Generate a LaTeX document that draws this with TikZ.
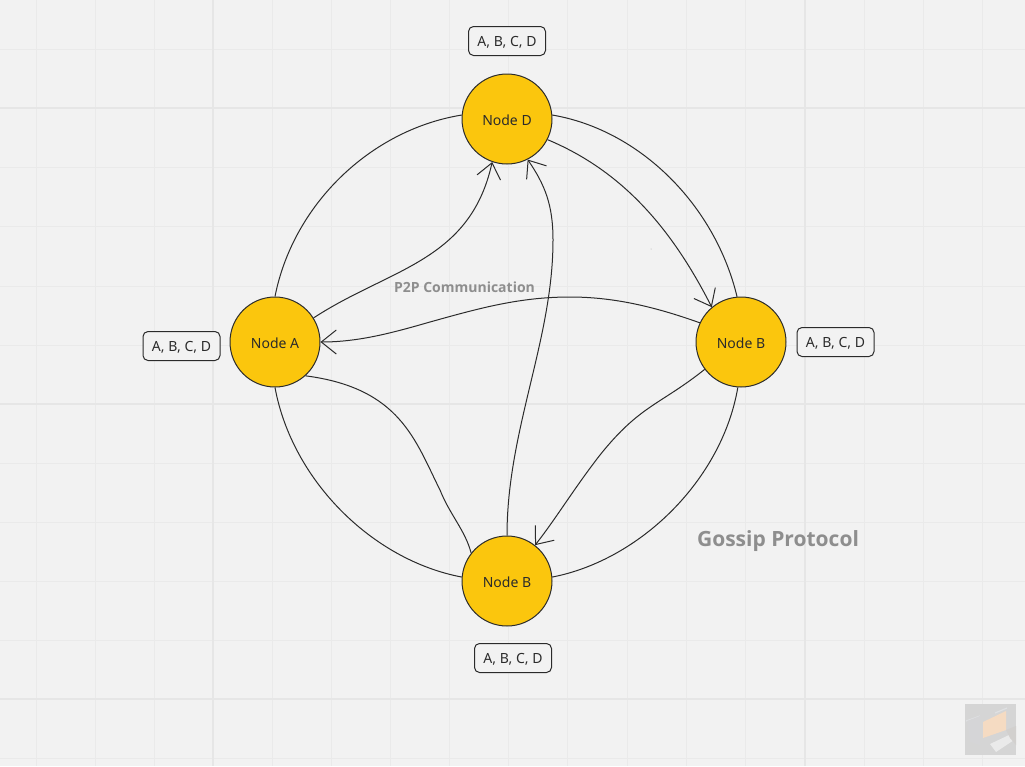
\documentclass[tikz,border=0pt]{standalone}
\usepackage{fontspec}
\setmainfont{Noto Sans}
\newfontfamily\capfont{Open Sans}
\usetikzlibrary{arrows.meta}
\definecolor{bg}{HTML}{F2F2F2}
\definecolor{gridc}{HTML}{EAEAEA}
\definecolor{gridm}{HTML}{E6E6E6}
\definecolor{gold}{HTML}{FBC60D}
\definecolor{ink}{HTML}{2B2B2B}
\definecolor{muted}{HTML}{8E8E8E}
\tikzset{
  x=1pt,y=-1pt,
  peer/.style={circle,draw=ink,line width=1pt,fill=gold,minimum size=90pt,inner sep=0pt,text height=14pt,text depth=2pt,font=\fontsize{14}{16}\selectfont,text=ink},
  state/.style={draw=ink,line width=1pt,rounded corners=5pt,fill=bg,minimum width=77pt,minimum height=29pt,inner sep=0pt,text height=13pt,text depth=2pt,font=\fontsize{14}{16}\selectfont,text=ink},
  link/.style={draw=ink,line width=1pt},
  msg/.style={link,-{Straight Barb[length=15pt,width=24pt,line width=1pt]}},
  faint/.style={line width=0.9pt,draw=gridc},
  major/.style={line width=1.1pt,draw=gridm},
  caption/.style={text=muted,font=\capfont\bfseries\fontsize{14}{16}\selectfont,inner sep=0pt}
}
\begin{document}
\begin{tikzpicture}
\useasboundingbox (0,0) rectangle (1025,766);
\fill[bg] (0,0) rectangle (1025,766);
\foreach \gx in {36,95,154,272,331,390,449,508,567,627,686,745,864,923,982} \draw[faint] (\gx,0) -- (\gx,766);
\foreach \gy in {49,167,226,286,345,463,522,581,640,758} \draw[faint] (0,\gy) -- (1025,\gy);
\foreach \gx in {213,805} \draw[major] (\gx,0) -- (\gx,766);
\foreach \gy in {108,404,699} \draw[major] (0,\gy) -- (1025,\gy);
% thumbnail
\fill[black!12!bg] (965,704) rectangle (1016,755);
\fill[orange!20!bg] (983,722) -- (1006,711) -- (1006,730) -- (983,738) -- cycle;
\draw[cyan!20!black!10!bg,line width=1.2pt] (966,721) -- (980,716);
\draw[cyan!20!black!10!bg,line width=1.2pt] (995,713) -- (1007,708);
\fill[blue!8!black!12!bg] (967,721) -- (980,716) -- (980,745) -- (970,742) -- cycle;
\fill[white!70!black!12!bg] (990,744) -- (1009,735) -- (1014,740) -- (996,752) -- cycle;
\fill[orange!12!black!15!bg] (1006,730) -- (1016,726) -- (1016,745) -- (1010,738) -- cycle;
\fill[black!30!bg] (651,249) circle (0.5);

\node[peer] (D) at (507,119) {Node D};
\node[peer] (A) at (275,342) {Node A};
\node[peer] (R) at (741,342) {Node B};
\node[peer] (S) at (507,581) {Node B};

\node[state] (ld) at (507,41) {A, B, C, D};
\node[state] (la) at (181.5,346) {A, B, C, D};
\node[state] (lr) at (835.5,342) {A, B, C, D};
\node[state] (ls) at (513,658) {A, B, C, D};

\draw[link] (A.90) .. controls (293,205) and (370,130) .. (D.175);
\draw[link] (D.5) .. controls (640,130) and (715,205) .. (R.95);
\draw[link] (R.266) .. controls (722,480) and (640,560) .. (S.5);
\draw[link] (A.270) .. controls (292,480) and (372,560) .. (S.175);
\draw[msg] (A.32) .. controls (390,268) and (470,262) .. (D.251);
\draw[msg] (R.155) .. controls (650,305) and (610,297) .. (570,297) .. controls (520,297) and (480,308) .. (430,322) .. controls (395,332) and (360,342) .. (A.0);
\draw[msg] (D.-27) .. controls (620,170) and (670,225) .. (R.130);
\draw[msg] (R.217) .. controls (660,405) and (640,405) .. (600,455) .. controls (575,487) and (555,520) .. (S.52);
\draw[msg] (S.90) .. controls (507,430) and (553,340) .. (553,240) .. controls (553,205) and (545,185) .. (D.-63);
\draw[link] (A.-48) .. controls (400,388) and (415,440) .. (440,490) .. controls (450,515) and (465,530) .. (S.142);

\node[caption] (p2p) at (464.5,287) {P2P Communication};
\node[caption,font=\capfont\bfseries\fontsize{21}{24}\selectfont] (title) at (778,541.5) {Gossip Protocol};
\end{tikzpicture}
\end{document}
